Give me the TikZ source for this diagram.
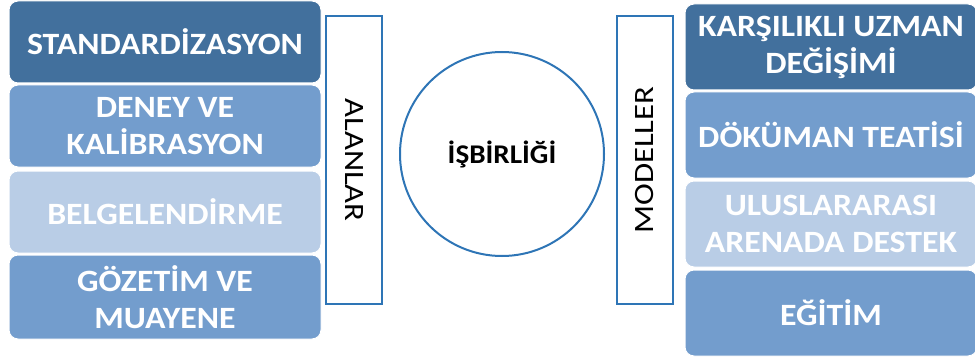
\documentclass[tikz,border=0pt]{standalone}
\usepackage{fontspec}
\setmainfont{Carlito}
\newfontfamily\boxfont[FakeStretch=1.09]{Carlito}
\newfontfamily\framefont[FakeStretch=1.17]{Carlito}
\newfontfamily\circlefont[FakeStretch=1.08]{Carlito}
\definecolor{darkblue}{RGB}{66,112,157}
\definecolor{midblue}{RGB}{115,157,205}
\definecolor{lightblue}{RGB}{185,205,230}
\definecolor{lineblue}{RGB}{46,117,182}
\tikzset{
    field/.style={rounded corners=9pt, draw=white, line width=1pt, text=white, align=center,
        font=\boxfont\fontsize{31}{37}\selectfont\bfseries, inner sep=0pt},
    frame/.style={draw=lineblue, line width=1.5pt, minimum width=56pt, minimum height=288pt,
        inner sep=0pt, font=\framefont\fontsize{28}{32}\selectfont}
}
\begin{document}
\begin{tikzpicture}[x=1pt, y=-1pt]
    \useasboundingbox (0, 0) rectangle (975, 361);

    \node[field, fill=darkblue, minimum width=312pt, minimum height=82pt] (std) at (165, 42) {STANDARDİZASYON};
    \node[field, fill=midblue, minimum width=312pt, minimum height=82pt] (deney) at (165, 126) {DENEY VE\\KALİBRASYON};
    \node[field, fill=lightblue, minimum width=312pt, minimum height=82pt] (belge) at (165, 212) {BELGELENDİRME};
    \node[field, fill=midblue, minimum width=312pt, minimum height=84pt] (gozetim) at (165, 297) {GÖZETİM VE\\MUAYENE};

    \node[frame] (alanlar) at (354, 160) {\rotatebox{-90}{ALANLAR}};

    \node[draw=lineblue, line width=2pt, circle, minimum size=204pt, inner sep=0pt,
        font=\circlefont\fontsize{27}{30}\selectfont\bfseries] (isbirligi) at (502, 154) {İŞBİRLİĞİ};

    \node[frame] (modeller) at (645, 160) {\rotatebox{90}{MODELLER}};

    \node[field, fill=darkblue, minimum width=292pt, minimum height=86pt] (uzman) at (831, 47) {KARŞILIKLI UZMAN\\DEĞİŞİMİ};
    \node[field, fill=midblue, minimum width=292pt, minimum height=86pt] (dokuman) at (831, 135) {DÖKÜMAN TEATİSİ};
    \node[field, fill=lightblue, minimum width=292pt, minimum height=86pt] (destek) at (831, 224) {ULUSLARARASI\\ARENADA DESTEK};
    \node[field, fill=midblue, minimum width=292pt, minimum height=86pt] (egitim) at (831, 313) {EĞİTİM};
\end{tikzpicture}
\end{document}
